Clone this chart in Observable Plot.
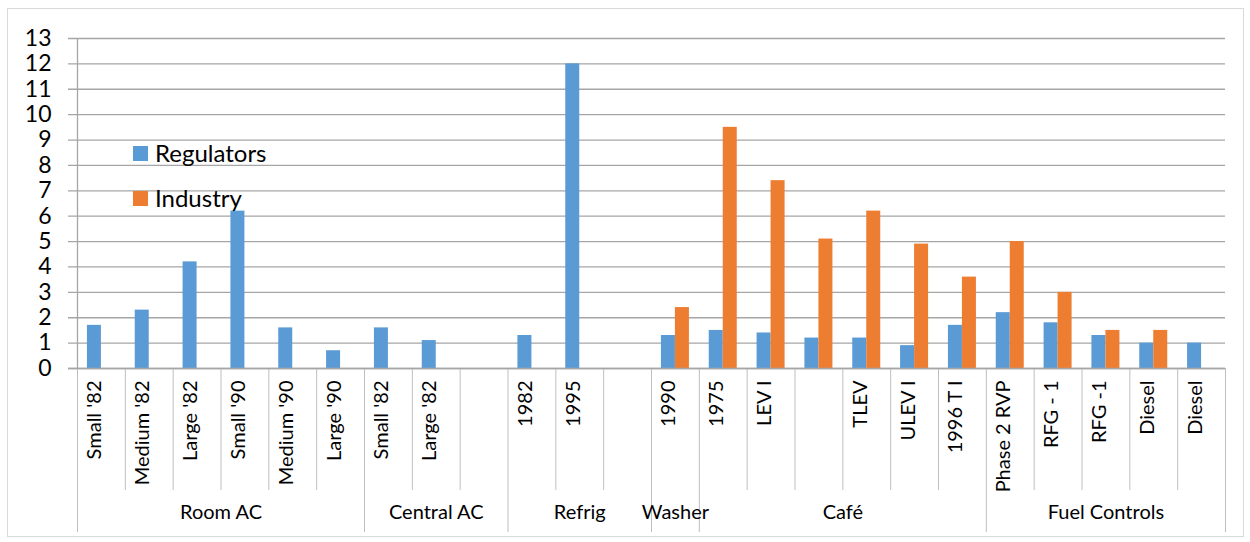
<!DOCTYPE html>
<html>
<head>
<meta charset="utf-8">
<script src="https://cdn.jsdelivr.net/npm/d3@7"></script>
<script src="https://cdn.jsdelivr.net/npm/@observablehq/plot@0.6"></script>
<style>
  html, body { margin: 0; padding: 0; background: #fff; }
  #wrap { position: relative; width: 1250px; height: 542px; font-family: Lato, "Open Sans", sans-serif; }
  #border { position: absolute; left: 7px; top: 8px; width: 1235px; height: 527px; border: 1px solid #d9d9d9; pointer-events: none; }
  #chart { position: absolute; left: 0; top: 0; }
  .legend { position: absolute; left: 133px; font-size: 24px; color: #000; display: flex; align-items: center; line-height: 1; }
  .legend span.sw { display: inline-block; width: 15px; height: 15px; margin-right: 7px; }
</style>
</head>
<body>
<div id="wrap">
  <div id="border"></div>
  <div id="chart"></div>
  <div class="legend" style="top:141px"><span class="sw" style="background:#5b9bd5"></span>Regulators</div>
  <div class="legend" style="top:186px"><span class="sw" style="background:#ed7d31"></span>Industry</div>
</div>
<script>
const slotLabels = ["Small '82","Medium '82","Large '82","Small '90","Medium '90","Large '90",
  "Small '82","Large '82","",
  "1982","1995","",
  "1990",
  "1975","LEV I","","TLEV","ULEV I","1996 T I",
  "Phase 2 RVP","RFG - 1","RFG -1","Diesel","Diesel"];
const regulators = [1.7,2.3,4.2,6.2,1.6,0.7, 1.6,1.1,null, 1.3,12,null, 1.3, 1.5,1.4,1.2,1.2,0.9,1.7, 2.2,1.8,1.3,1.0,1.0];
const industry   = [null,null,null,null,null,null, null,null,null, null,null,null, 2.4, 9.5,7.4,5.1,6.2,4.9,3.6, 5.0,3.0,1.5,1.5,null];
const groupNames = ["Room AC","Central AC","Refrig","Washer","Café","Fuel Controls"];
const groupSizes = [6,3,3,1,6,5];
const yTicks = d3.range(0, 14);

const width = 1250, height = 542;
const marginLeft = 77, marginRight = 25, marginTop = 38, marginBottom = 174;
const n = slotLabels.length;
const bw = (width - marginLeft - marginRight) / n;
const plotH = height - marginTop - marginBottom;
const barW = 14;
const inset = (bw - barW) / 2;

const slots = d3.range(n);
const regData = slots.map(i => ({slot: i, value: regulators[i]})).filter(d => d.value != null);
const indData = slots.map(i => ({slot: i, value: industry[i]})).filter(d => d.value != null);

let starts = [], acc = 0;
groupSizes.forEach(s => { starts.push(acc); acc += s; });
const groupLabels = groupNames.map((g, k) => {
  const s = groupSizes[k];
  return {name: g, slot: starts[k] + Math.floor(s / 2), even: s % 2 === 0};
});
const groupBounds = new Set(starts);

const chart = Plot.plot({
  width, height, marginLeft, marginRight, marginTop, marginBottom,
  style: {fontFamily: "Lato, 'Open Sans', sans-serif", background: "transparent", overflow: "visible"},
  x: {type: "band", domain: slots, paddingInner: 0, paddingOuter: 0, round: false, range: [marginLeft, width - marginRight], axis: null},
  y: {domain: [0, 13], range: [height - marginBottom, marginTop], axis: null},
  marks: [
    Plot.ruleY(yTicks, {y: d => d, stroke: "#a6a6a6", strokeWidth: 1.3, insetLeft: -9}),
    Plot.axisY(yTicks, {tickSize: 0, tickPadding: 26, fontSize: 23, fill: "#000", tickFormat: d => d, label: null}),
    Plot.barY(regData, {x: "slot", y: "value", fill: "#5b9bd5", insetLeft: inset, insetRight: inset, dx: -barW / 2}),
    Plot.barY(indData, {x: "slot", y: "value", fill: "#ed7d31", insetLeft: inset, insetRight: inset, dx: barW / 2}),
    // left axis line
    Plot.ruleX([0], {x: d => d, dx: -bw / 2, stroke: "#a6a6a6", strokeWidth: 1.3}),
    // category separator ticks below axis
    Plot.ruleX(slots.filter(i => !groupBounds.has(i)), {x: d => d, dx: -bw / 2, stroke: "#bfbfbf", strokeWidth: 1, insetTop: plotH, insetBottom: -122}),
    // group boundaries
    Plot.ruleX([...groupBounds], {x: d => d, dx: -bw / 2, stroke: "#bfbfbf", strokeWidth: 1, insetTop: plotH, insetBottom: -164}),
    Plot.ruleX([n - 1], {x: d => d, dx: bw / 2, stroke: "#bfbfbf", strokeWidth: 1, insetTop: plotH, insetBottom: -164}),
    // baseline
    Plot.ruleY([0], {stroke: "#a6a6a6", strokeWidth: 1.3, insetLeft: -9}),
    // category labels
    Plot.text(slots, {x: d => d, text: d => slotLabels[d], frameAnchor: "bottom", rotate: -90, textAnchor: "end", dy: 12, fontSize: 20, fill: "#000"}),
    // group labels
    Plot.text(groupLabels.filter(d => d.even), {x: "slot", text: "name", frameAnchor: "bottom", dy: 150, dx: -bw / 2, fontSize: 20, fill: "#000"}),
    Plot.text(groupLabels.filter(d => !d.even), {x: "slot", text: "name", frameAnchor: "bottom", dy: 150, fontSize: 20, fill: "#000"})
  ]
});
document.getElementById("chart").appendChild(chart);
</script>
</body>
</html>
